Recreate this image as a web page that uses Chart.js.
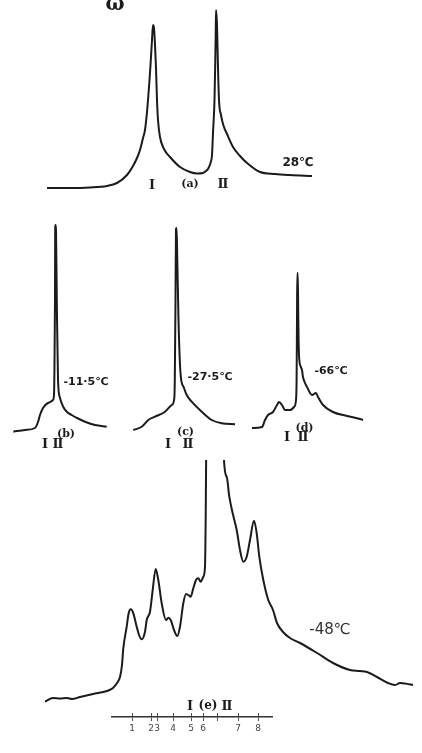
<!DOCTYPE html>
<html>
<head>
<meta charset="utf-8">
<script src="https://cdn.jsdelivr.net/npm/chart.js@4.4.1/dist/chart.umd.min.js"></script>
<style>
  html, body { margin: 0; padding: 0; background: #fff; }
  body { width: 422px; height: 753px; position: relative; overflow: hidden; }
  canvas { position: absolute; }
</style>
</head>
<body>
<canvas id="specA" width="285" height="195" style="left:40px;top:0px"></canvas>
<canvas id="specB" width="110" height="240" style="left:5px;top:215px"></canvas>
<canvas id="specC" width="115" height="240" style="left:125px;top:215px"></canvas>
<canvas id="specD" width="125" height="240" style="left:245px;top:215px"></canvas>
<canvas id="specE" width="380" height="260" style="left:40px;top:460px"></canvas>
<canvas id="scaleE" width="380" height="40" style="left:40px;top:713px"></canvas>
<script>
// spectra: relative shift (arb. units) and signal height
const shiftA = [7, 30, 50, 67, 77, 87, 93, 97, 100, 103, 105, 107, 108, 109.5, 110.5, 112, 113, 114, 115, 116,
  117, 118, 120, 124, 130, 140, 150, 157, 163, 166, 168, 170.5, 172, 173, 174.5, 175.2, 175.7, 176, 177, 177.8,
  179, 181, 183.3, 187, 193, 200, 207, 220, 235, 250, 272];
const signalA = [7, 7, 7.5, 9, 12, 20, 29, 37, 45, 57, 65, 83, 95, 115, 130, 155, 170, 167, 150, 127,
  95, 75, 58, 46, 38, 28, 23, 21.5, 22, 24, 26, 32, 40, 62, 95, 130, 160, 185, 170, 135,
  95, 80, 70, 61, 48, 39, 32, 23, 21, 20, 19];

const shiftB = [8.3, 20, 30, 33, 35, 38, 43, 48, 49, 49.3, 50, 50.2, 50.5, 51, 51.8, 53, 55, 58.3, 62, 66.7, 73, 80, 90, 101.7];
const signalB = [8.3, 10, 12, 18, 25, 32, 37, 40, 45, 60, 140, 212, 215, 210, 140, 60, 42, 33, 28, 25, 21.5, 18.3, 15, 13.3];

const shiftC = [8.3, 16.7, 23.3, 30, 40, 46.7, 49.3, 49.8, 50.5, 51, 51.6, 52.3, 53.5, 55, 56, 59, 61.7, 66.7, 76.7, 86.7, 96.7, 110];
const signalC = [10, 13.3, 20, 23.3, 28.3, 35, 41.7, 60, 140, 211, 212, 180, 120, 75, 61.7, 52, 45, 38.3, 28.3, 20, 16.7, 15.7];

const shiftD = [7, 17, 20, 23, 28, 32, 34, 37, 40, 45, 49, 51, 51.6, 52, 52.3, 52.8, 53.3, 54, 55.5, 57,
  58, 60, 62, 67, 71, 73, 78, 88, 102, 115, 118];
const signalD = [12, 13, 20, 25, 28, 35, 38, 35, 30, 30, 33, 40, 60, 120, 167, 167, 120, 85, 74, 70,
  63, 57, 53, 45, 47, 43, 35, 28, 24, 21, 20];

const shiftE = [5, 13, 20, 27, 32, 40, 53, 67, 73, 77, 80, 82, 83.3, 86.7, 88.5, 90.7, 93.3, 96.7, 99, 101.7,
  105, 106.7, 110, 112.7, 115.7, 118.3, 121.7, 126, 128.3, 130.7, 134, 137.3, 140, 143.3, 146, 148.3, 150.7, 153.3, 156, 158.3,
  160.7, 163.3, 165, 165.7, 166.3, 167, 183.5, 184, 186.7, 189.3, 192.7, 196.7, 200, 203.3, 206.7, 210, 214, 216.7, 219.3, 223.3,
  228.3, 233, 237, 243, 250, 260, 277, 293, 310, 320, 327, 337, 348, 355, 360, 365, 373];
const signalE = [8.3, 12, 11.5, 12, 11, 13, 16, 19, 22, 27, 33, 45, 61.7, 83.3, 96, 100.7, 96.7, 83.3, 75, 70.7,
  78.3, 90, 98.3, 120, 141, 130, 106.7, 90, 92.3, 90, 80, 74, 83.3, 106.7, 116, 115, 113.3, 121.7, 130, 131.7,
  128.3, 133.3, 143.3, 193.3, 270, 320, 320, 250, 233.3, 213.3, 196.7, 180, 160, 148.3, 153.3, 170, 189.3, 176.7, 153.3, 130,
  110, 100, 87, 78, 72, 67, 57, 47, 40, 39, 38, 33, 27, 25, 27, 26.5, 25];

// peak scale under (e)
const scaleTicks = [92, 111, 117, 133, 151, 163, 177, 198, 218];
const scaleTickLabels = ['1', '2', '3', '4', '5', '6', '', '7', '8'];

const INK = '#1b1b1b';
const ROMAN = 'bold 13px "DejaVu Serif", serif';
const TAG = 'bold 11px "DejaVu Serif", serif';
const TEMP = 'bold 11px "DejaVu Sans", sans-serif';

// draws the hand lettering that sits on each spectrum
const panelText = {
  id: 'panelText',
  afterDraw(chart, args, opts) {
    const { ctx, scales } = chart;
    ctx.save();
    ctx.textAlign = 'center';
    ctx.textBaseline = 'middle';
    (opts.items || []).forEach(item => {
      ctx.font = item.font;
      ctx.fillStyle = item.color || INK;
      ctx.fillText(item.text, scales.x.getPixelForValue(item.x), scales.y.getPixelForValue(item.y));
    });
    ctx.restore();
  }
};
Chart.register(panelText);

function spectrum(id, shifts, signal, xMax, yMin, yMax, items, clip) {
  return new Chart(document.getElementById(id), {
    type: 'line',
    data: {
      datasets: [{
        data: shifts.map((x, i) => ({ x, y: signal[i] })),
        borderColor: INK,
        borderWidth: 2,
        pointRadius: 0,
        cubicInterpolationMode: 'monotone',
        clip: clip
      }]
    },
    options: {
      responsive: false,
      animation: false,
      events: [],
      layout: { padding: 0 },
      scales: {
        x: { type: 'linear', display: false, min: 0, max: xMax },
        y: { type: 'linear', display: false, min: yMin, max: yMax }
      },
      plugins: {
        legend: { display: false },
        tooltip: { enabled: false },
        panelText: { items }
      }
    }
  });
}

spectrum('specA', shiftA, signalA, 285, 0, 195, [
  { text: 'ω', x: 75, y: 190, font: 'bold 20px "DejaVu Serif", serif' },
  { text: 'Ⅰ', x: 112, y: 9, font: ROMAN },
  { text: '(a)', x: 150, y: 11, font: TAG },
  { text: 'Ⅱ', x: 183, y: 10, font: ROMAN },
  { text: '28℃', x: 258, y: 32, font: 'bold 12px "DejaVu Sans", sans-serif' }
], false);

spectrum('specB', shiftB, signalB, 110, -15, 225, [
  { text: '-11·5℃', x: 81, y: 58, font: TEMP },
  { text: 'Ⅰ', x: 40, y: -5, font: ROMAN },
  { text: '(b)', x: 61, y: 6, font: TAG },
  { text: 'Ⅱ', x: 53, y: -5, font: ROMAN }
], false);

spectrum('specC', shiftC, signalC, 115, -15, 225, [
  { text: '-27·5℃', x: 85, y: 63, font: TEMP },
  { text: 'Ⅰ', x: 43, y: -5, font: ROMAN },
  { text: '(c)', x: 60.5, y: 7.5, font: TAG },
  { text: 'Ⅱ', x: 63, y: -5, font: ROMAN }
], false);

spectrum('specD', shiftD, signalD, 125, -15, 225, [
  { text: '-66℃', x: 86, y: 69, font: TEMP },
  { text: 'Ⅰ', x: 42, y: 2, font: ROMAN },
  { text: '(d)', x: 59.5, y: 12, font: TAG },
  { text: 'Ⅱ', x: 58, y: 2, font: ROMAN }
], false);

spectrum('specE', shiftE, signalE, 380, -10, 250, [
  { text: '-48℃', x: 290, y: 80, font: '15px "DejaVu Sans", sans-serif', color: '#333' },
  { text: 'Ⅰ', x: 150, y: 3, font: ROMAN },
  { text: '(e)', x: 168, y: 4, font: 'bold 12px "DejaVu Serif", serif' },
  { text: 'Ⅱ', x: 187, y: 3, font: ROMAN }
], 0);

// numbered peak scale drawn as a real x axis in the same shift units as (e)
new Chart(document.getElementById('scaleE'), {
  type: 'line',
  data: { datasets: [] },
  options: {
    responsive: false,
    animation: false,
    events: [],
    layout: { padding: { left: 72, right: 148, top: 0, bottom: 16 } },
    scales: {
      x: {
        type: 'linear',
        min: 72,
        max: 232,
        afterBuildTicks: scale => { scale.ticks = scaleTicks.map(value => ({ value })); },
        afterFit: scale => { scale.height = 20; },
        ticks: {
          autoSkip: false,
          maxRotation: 0,
          padding: 2,
          color: '#444',
          font: { family: '"DejaVu Sans", sans-serif', size: 9 },
          callback: (value, index) => scaleTickLabels[index]
        },
        grid: { color: '#555', lineWidth: 1, tickLength: 4, drawOnChartArea: true },
        border: { display: true, color: '#333', width: 1.5 }
      },
      y: { display: false, min: 0, max: 1 }
    },
    plugins: { legend: { display: false }, tooltip: { enabled: false } }
  }
});
</script>
</body>
</html>
